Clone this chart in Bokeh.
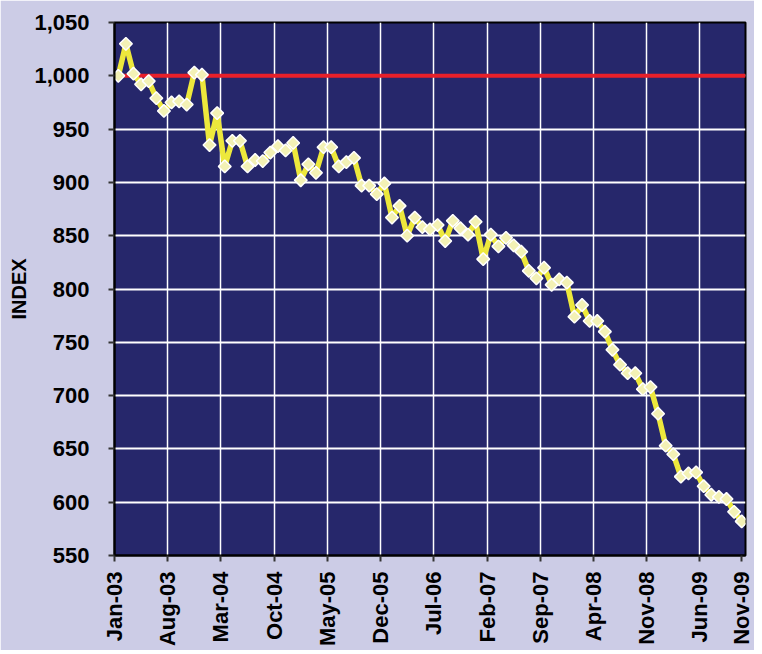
import numpy as np
import pandas as pd
from bokeh.plotting import figure
from bokeh.models import FixedTicker, NumeralTickFormatter, Span, Range1d, ColumnDataSource
from bokeh.embed import file_html
from bokeh.resources import INLINE

# ---- data ----
months = list(pd.date_range("2003-01-01", periods=83, freq="MS").strftime("%b-%y"))
index_values = [
    1000, 1030, 1002, 992, 995, 979, 967, 975, 976, 973, 1003, 1001,
    935, 965, 915, 939, 939, 915, 921, 920, 928, 934, 930, 937,
    902, 917, 909, 933, 933, 915, 919, 923, 897, 897, 889, 899,
    867, 878, 850, 867, 858, 856, 860, 845, 864, 857, 851, 863,
    828, 851, 840, 848, 841, 835, 817, 810, 820, 804, 809, 806,
    774, 785, 770, 770, 760, 743, 729, 721, 721, 706, 708, 683,
    653, 645, 624, 627, 628, 615, 607, 605, 603, 591, 582,
]
tick_labels = ["Jan-03", "Aug-03", "Mar-04", "Oct-04", "May-05", "Dec-05", "Jul-06",
               "Feb-07", "Sep-07", "Apr-08", "Nov-08", "Jun-09", "Nov-09"]
baseline = 1000
y_ticks = list(range(550, 1051, 50))

# ---- layout ----
x_pos = [i + 0.5 for i in range(len(months))]
src = ColumnDataSource(dict(x=x_pos, y=index_values))

tick_pos = [float(months.index(t)) for t in tick_labels[:-1]]
tick_pos.append(months.index(tick_labels[-1]) + 0.5)
overrides = {tp: lab for tp, lab in zip(tick_pos, tick_labels)}

p = figure(width=754, height=650, output_backend="svg", toolbar_location=None,
           x_range=Range1d(0, len(months)), y_range=Range1d(550, 1050),
           min_border_left=114, min_border_right=9, min_border_top=22, min_border_bottom=95)

p.background_fill_color = "#26276B"
p.border_fill_color = "#CCCCE6"
p.outline_line_color = "black"
p.outline_line_width = 2

# grids
p.ygrid.ticker = FixedTicker(ticks=y_ticks)
p.ygrid.grid_line_color = "white"
p.ygrid.grid_line_width = 2
p.xgrid.ticker = FixedTicker(ticks=tick_pos[1:-1])
p.xgrid.grid_line_color = "white"
p.xgrid.grid_line_width = 1.5

# axes
FONT = "Liberation Sans"
p.yaxis.ticker = FixedTicker(ticks=y_ticks)
p.yaxis.formatter = NumeralTickFormatter(format="0,0")
p.xaxis.ticker = FixedTicker(ticks=tick_pos)
p.xaxis.major_label_overrides = overrides
p.xaxis.major_label_orientation = np.pi / 2

for ax in (p.xaxis[0], p.yaxis[0]):
    ax.major_label_text_font = FONT
    ax.major_label_text_font_style = "bold"
    ax.major_label_text_font_size = "22px"
    ax.major_label_text_color = "black"
    ax.major_tick_in = 0
    ax.major_tick_out = 6
    ax.major_tick_line_color = "#333333"
    ax.major_tick_line_width = 2
    ax.minor_tick_line_color = None
    ax.axis_line_color = "black"
    ax.axis_line_width = 2

p.yaxis.major_label_standoff = 19
p.xaxis.major_label_standoff = 10
p.yaxis.axis_label = "INDEX"
p.yaxis.axis_label_text_font = FONT
p.yaxis.axis_label_text_font_style = "bold"
p.yaxis.axis_label_text_font_size = "20px"
p.yaxis.axis_label_text_color = "black"
p.yaxis.axis_label_standoff = 1

# reference line
ref = Span(location=baseline, dimension="width", line_color="#E8202A", line_width=4, level="underlay")
p.add_layout(ref)

# series
p.line("x", "y", source=src, line_color="#EDE83C", line_width=5.5)
p.scatter("x", "y", source=src, marker="square", angle=np.pi / 4, size=9,
          fill_color="#F3F1B5", line_color="white", line_width=1.5)

open("out.html", "w").write(file_html(p, INLINE))
